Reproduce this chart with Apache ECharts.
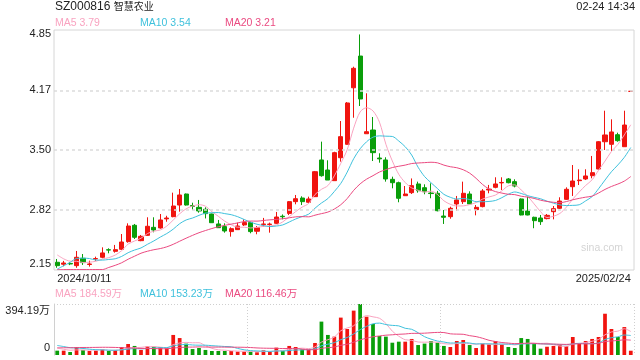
<!DOCTYPE html>
<html><head><meta charset="utf-8">
<script src="https://cdn.jsdelivr.net/npm/echarts@6/dist/echarts.min.js"></script>
<style>html,body{margin:0;padding:0;background:#fff}#c{width:640px;height:360px}</style>
</head><body><div id="c"></div>
<script>
const dates = ['2024/10/11','2024/10/14','2024/10/15','2024/10/16','2024/10/17','2024/10/18','2024/10/21','2024/10/22','2024/10/23','2024/10/24','2024/10/25','2024/10/28','2024/10/29','2024/10/30','2024/10/31',
'2024/11/01','2024/11/04','2024/11/05','2024/11/06','2024/11/07','2024/11/08','2024/11/11','2024/11/12','2024/11/13','2024/11/14','2024/11/15','2024/11/18','2024/11/19','2024/11/20','2024/11/21','2024/11/22','2024/11/25','2024/11/26','2024/11/27','2024/11/28','2024/11/29',
'2024/12/02','2024/12/03','2024/12/04','2024/12/05','2024/12/06','2024/12/09','2024/12/10','2024/12/11','2024/12/12','2024/12/13','2024/12/16','2024/12/17','2024/12/18','2024/12/19','2024/12/20','2024/12/23','2024/12/24','2024/12/25','2024/12/26','2024/12/27','2024/12/30','2024/12/31',
'2025/01/02','2025/01/03','2025/01/06','2025/01/07','2025/01/08','2025/01/09','2025/01/10','2025/01/13','2025/01/14','2025/01/15','2025/01/16','2025/01/17','2025/01/20','2025/01/21','2025/01/22','2025/01/23','2025/01/24','2025/01/27',
'2025/02/05','2025/02/06','2025/02/07','2025/02/10','2025/02/11','2025/02/12','2025/02/13','2025/02/14','2025/02/17','2025/02/18','2025/02/19','2025/02/20','2025/02/21','2025/02/24'];

const openP = [2.237,2.215,2.224,2.199,2.282,2.212,2.275,2.293,2.378,2.36,
2.383,2.469,2.653,2.48,2.54,2.63,2.623,2.725,2.75,2.881,
3.005,2.875,2.855,2.833,2.78,2.668,2.638,2.582,2.604,2.657,
2.683,2.586,2.66,2.662,2.675,2.755,2.787,2.919,2.96,2.912,
2.975,3.388,3.275,3.155,3.413,3.564,4.20,4.557,3.683,3.725,
3.41,3.388,3.17,3.132,2.986,3.02,3.118,3.076,3.016,3.013,
2.757,2.75,2.893,2.919,3.005,2.829,2.863,3.05,3.08,3.13,
3.174,3.144,2.949,2.814,2.743,2.735,2.728,2.806,2.844,2.945,
3.087,3.155,3.174,3.211,3.286,3.593,3.564,3.672,3.537,4.16];
const closeP = [2.199,2.229,2.218,2.293,2.233,2.218,2.278,2.342,2.374,2.379,
2.465,2.645,2.518,2.529,2.642,2.60,2.713,2.735,2.87,2.994,
2.881,2.866,2.814,2.784,2.682,2.626,2.589,2.615,2.645,2.683,
2.582,2.626,2.668,2.667,2.746,2.749,2.919,2.952,2.919,2.949,
3.256,3.211,3.162,3.47,3.65,4.029,4.419,4.074,3.706,3.47,
3.40,3.174,3.132,2.957,3.005,3.099,3.042,3.031,3.01,2.817,
2.743,2.844,2.938,3.013,2.893,2.855,3.039,3.06,3.118,3.135,
3.132,3.095,2.769,2.769,2.705,2.694,2.765,2.84,2.926,3.058,
3.151,3.162,3.208,3.245,3.593,3.669,3.703,3.605,3.781,4.16];
const lowP = [2.175,2.192,2.205,2.175,2.207,2.188,2.252,2.282,2.338,2.345,
2.375,2.457,2.499,2.474,2.533,2.574,2.615,2.693,2.743,2.806,
2.875,2.825,2.795,2.73,2.68,2.623,2.57,2.525,2.60,2.645,
2.563,2.552,2.638,2.57,2.668,2.72,2.768,2.889,2.881,2.90,
2.971,3.20,3.162,3.155,3.369,3.56,3.863,3.995,3.683,3.376,
3.357,3.144,3.069,2.912,2.983,3.005,3.02,3.002,2.957,2.81,
2.668,2.727,2.817,2.893,2.893,2.765,2.855,3.013,3.069,3.05,
3.125,3.08,2.765,2.765,2.62,2.657,2.72,2.72,2.836,2.938,
2.983,3.106,3.162,3.182,3.28,3.50,3.489,3.593,3.537,4.16];
const highP = [2.274,2.252,2.24,2.364,2.33,2.255,2.30,2.405,2.394,2.432,
2.555,2.675,2.668,2.544,2.743,2.743,2.78,2.76,3.02,3.061,
3.01,2.907,2.938,2.855,2.785,2.713,2.675,2.63,2.683,2.72,
2.694,2.645,2.736,2.683,2.803,2.775,2.926,2.994,2.979,2.975,
3.264,3.594,3.384,3.48,3.826,4.04,4.437,4.80,4.138,3.871,
3.463,3.418,3.20,3.144,3.095,3.18,3.144,3.114,3.125,3.04,
2.825,2.862,2.983,3.144,3.035,2.881,3.06,3.107,3.193,3.193,
3.185,3.17,2.955,2.975,2.75,2.769,2.78,2.87,2.968,3.08,
3.331,3.283,3.283,3.433,3.6,3.942,3.845,3.695,3.942,4.16];
// closes before the visible window (estimated from where the MA lines start)
const priorCloses = [2.229,2.218,2.293,2.233,2.218,2.278,2.342,1.90,1.90,1.889,1.85,1.84,1.852,2.20,2.258,2.45,2.35,2.30,2.301];

const volume = [33.5,33.5,23,62,39,31,33.5,44,31,39,
62,85,70,39,67,64,62,52,155,131,
88,46,54,39,31,31,31,31,26,26,
26,21,36,23,57,31,70,62,44,41,
93,258,155,142,289,201,343,394.19,296,240,
147,142,95,103,103,124,77,88,108,95,
70,62,108,116,77,54,88,82,108,82,
62,54,131,124,88,49,64,70,77,70,
139,90,108,124,139,319,201,139,216,33];
const priorVolumes = [25,22,28,30,26,24,27,35,60,95,120,110,90,70,85,75,60,50,45];

const priceTicks = [2.15, 2.825, 3.5, 4.175, 4.85];
const priceTickLabels = ['2.15','2.82','3.50','4.17','4.85'];
const volTicks = [0, 394.19];
const volTickLabels = ['0','394.19万'];

const codeText = 'SZ000816';
const nameText = '智慧农业';
const timeText = '02-24 14:34';
const maNames = ['MA5','MA10','MA20'];
const maLegendValues = ['3.79','3.54','3.21'];
const volMaLegendValues = ['184.59万','153.23万','116.46万'];

const UP = '#f0140f', DOWN = '#0a9e0a';
const MA_COLORS = ['#f9a3c0', '#3fc1dc', '#ea4a80'];
const FONT = '"Liberation Sans", Arial, "Noto Sans CJK SC", sans-serif';
const CLEAR = 'rgba(0,0,0,0)';

function movingAvg(vals, prior, n) {
  const all = prior.concat(vals);
  return vals.map((_, i) => {
    const j = i + prior.length;
    let s = 0;
    for (let k = j - n + 1; k <= j; k++) s += all[k];
    return +(s / n).toFixed(4);
  });
}

const N = dates.length;
const candleData = openP.map((o, i) => [o, closeP[i], lowP[i], highP[i]]);
const volData = volume.map((v, i) => {
  const up = closeP[i] > openP[i] || (closeP[i] === openP[i] && (i === 0 || closeP[i] >= closeP[i - 1]));
  return { value: v, itemStyle: { color: up ? UP : DOWN } };
});

const periods = [5, 10, 20];
const priceMA = periods.map(p => movingAvg(closeP, priorCloses, p));
const volMA = periods.map(p => movingAvg(volume, priorVolumes, p));

const titles = [
  { text: '{a|' + codeText + ' }{b|' + nameText + '}', left: 55, top: 1, padding: 0,
    textStyle: { fontSize: 12, fontWeight: 'normal', color: '#222', fontFamily: FONT,
      rich: { a: { fontSize: 12, color: '#222', fontFamily: FONT }, b: { fontSize: 10, color: '#222', fontFamily: FONT } } } },
  { text: timeText, right: 5, top: 1, padding: 0, textStyle: { fontSize: 11, fontWeight: 'normal', color: '#222', fontFamily: FONT } },
  { text: 'sina.com', right: 17, top: 243, padding: 0, textStyle: { fontSize: 10.5, fontWeight: 'normal', color: '#d4d4d4', fontFamily: FONT } }
];
const legendX = [55, 140, 225];
maNames.forEach((n, k) => {
  titles.push({ text: n + ' ' + maLegendValues[k], left: legendX[k], top: 18, padding: 0, textStyle: { fontSize: 10.5, fontWeight: 'normal', color: MA_COLORS[k], fontFamily: FONT } });
  titles.push({ text: n + ' ' + volMaLegendValues[k], left: legendX[k], top: 289, padding: 0, textStyle: { fontSize: 10.5, fontWeight: 'normal', color: MA_COLORS[k], fontFamily: FONT } });
});

const maSeries = [];
periods.forEach((p, k) => {
  maSeries.push({ type: 'line', name: 'MA' + p, xAxisIndex: 0, yAxisIndex: 0, data: priceMA[k], showSymbol: false, smooth: 0.3,
    lineStyle: { width: 1, color: MA_COLORS[k] }, silent: true, z: 3 });
  maSeries.push({ type: 'line', name: 'VMA' + p, xAxisIndex: 1, yAxisIndex: 1, data: volMA[k], showSymbol: false, smooth: 0.3,
    lineStyle: { width: 1, color: MA_COLORS[k] }, silent: true, z: 3 });
});

const chart = echarts.init(document.getElementById('c'), null, { renderer: 'canvas' });
chart.setOption({
  animation: false,
  textStyle: { fontFamily: FONT },
  title: titles,
  grid: [
    { left: 54, right: 6, top: 30, height: 240, show: true, borderColor: '#d6d6d6', borderWidth: 1, containLabel: false },
    { left: 54, right: 6, top: 304, height: 51, containLabel: false }
  ],
  xAxis: [
    { type: 'category', gridIndex: 0, data: dates, boundaryGap: true,
      axisLine: { show: false }, axisTick: { show: false }, splitLine: { show: false },
      axisLabel: { show: true, interval: (i) => i === 0 || i === N - 1, color: '#222', fontSize: 11, margin: 3,
        alignMinLabel: 'left', alignMaxLabel: 'right', showMinLabel: true, showMaxLabel: true } },
    { type: 'category', gridIndex: 1, data: dates, boundaryGap: true,
      axisLine: { show: false }, axisTick: { show: false }, axisLabel: { show: false },
      splitLine: { show: true, interval: (i) => i === 30 || i === 60, lineStyle: { color: '#cfcfcf', type: [1, 2], width: 1 } } }
  ],
  yAxis: [
    { type: 'value', gridIndex: 0, min: priceTicks[0], max: priceTicks[priceTicks.length - 1], scale: true,
      axisLabel: { show: false }, axisLine: { show: false }, axisTick: { show: false }, splitLine: { show: false } },
    { type: 'value', gridIndex: 1, min: volTicks[0], max: volTicks[1],
      axisLabel: { show: false }, axisLine: { show: true, lineStyle: { color: '#d0d0d0' } }, axisTick: { show: false }, splitLine: { show: false } }
  ],
  series: [
    { type: 'candlestick', xAxisIndex: 0, yAxisIndex: 0, data: candleData, barWidth: '72%',
      itemStyle: { color: UP, color0: DOWN, borderColor: UP, borderColor0: DOWN, borderWidth: 1 },
      markLine: { silent: true, symbol: ['none', 'none'], animation: false,
        data: priceTicks.map((v, k) => ({ yAxis: v,
          lineStyle: { color: (k === 0 || k === priceTicks.length - 1) ? CLEAR : '#dcdcdc', type: [3, 3], width: 1.5 },
          label: { show: true, position: 'start', distance: 3, formatter: priceTickLabels[k], color: '#222', fontSize: 11, fontFamily: FONT,
            offset: [0, k === 0 ? -6 : (k === priceTicks.length - 1 ? 4 : 0)] } })) } },
    { type: 'bar', xAxisIndex: 1, yAxisIndex: 1, data: volData, barWidth: '58%',
      markLine: { silent: true, symbol: ['none', 'none'], animation: false,
        data: volTicks.map((v, k) => ({ yAxis: v,
          lineStyle: { color: k === 0 ? CLEAR : '#cfcfcf', type: [1, 2], width: 1 },
          label: { show: true, position: 'start', distance: 4, formatter: volTickLabels[k], color: '#222', fontSize: 11, fontFamily: FONT,
            offset: [0, k === 0 ? -7 : 7] } })) } },
    ...maSeries
  ]
});
</script></body></html>
